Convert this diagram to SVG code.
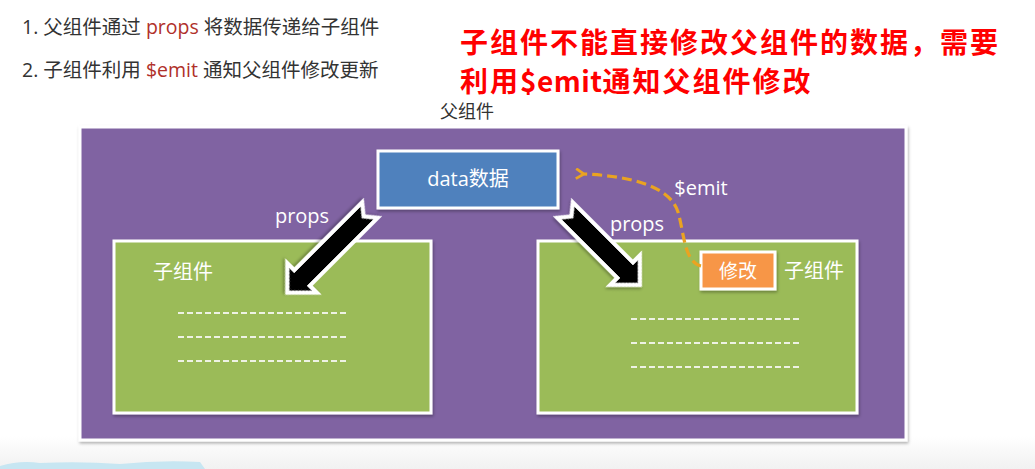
<svg xmlns="http://www.w3.org/2000/svg" width="1035" height="469" viewBox="0 0 1035 469">
<style>
.t{font-family:"Open Sans","Noto Sans CJK SC",sans-serif;}
.dark{fill:#333;font-size:19.5px;}
.red{fill:#b0302a;}
.title{font-family:"Noto Sans CJK SC",sans-serif;font-weight:bold;font-size:28px;letter-spacing:2px;fill:#ff0000;}
.w{fill:#fff;}
.box{stroke:#fff;stroke-width:3;filter:url(#sh);}
.dash{stroke:#eef2e4;stroke-width:2;stroke-dasharray:6 3;}
.arr{fill:#000;stroke:#fff;stroke-width:4;stroke-linejoin:miter;filter:url(#sh);}
</style>
<defs>
<filter id="sh" x="-10%" y="-10%" width="130%" height="130%">
<feDropShadow dx="1" dy="2" stdDeviation="1.5" flood-color="#000" flood-opacity="0.3"/>
</filter>
<marker id="oh" viewBox="0 0 12 12" refX="2" refY="6" markerWidth="12" markerHeight="12" markerUnits="userSpaceOnUse" orient="auto-start-reverse">
<path d="M10,1 L2,6 L10,11" fill="none" stroke="#eaa321" stroke-width="2.8"/>
</marker>
<linearGradient id="bg" x1="0" y1="0" x2="0" y2="1">
<stop offset="0.93" stop-color="#fff"/>
<stop offset="1" stop-color="#f1f1f1"/>
</linearGradient>
</defs>
<rect width="1035" height="469" fill="url(#bg)"/>
<path d="M0,466 Q20,460 40,463 Q80,461 120,464 Q160,460 200,462 L205,469 L0,469 Z" fill="#c7e6f2"/>

<g id="notes">
<text class="t dark" x="22" y="34">1. 父组件通过 <tspan class="red">props</tspan> 将数据传递给子组件</text>
<text class="t dark" x="22" y="77">2. 子组件利用 <tspan class="red">$emit</tspan> 通知父组件修改更新</text>
</g>
<g id="title">
<text class="title" x="460" y="53">子组件不能直接修改父组件的数据，需要</text>
<text class="title" x="460" y="92">利用<tspan letter-spacing="0.5">$emit</tspan>通知父组件修改</text>
</g>

<g id="parent">
<text class="t" x="440" y="118" font-size="18" fill="#333">父组件</text>
<rect class="box" x="80" y="127" width="826" height="313" fill="#8064a2"/>
</g>

<g id="data">
<rect class="box" x="378" y="151" width="180" height="57" fill="#4f81bd"/>
<text class="t w" x="468" y="186" font-size="20" text-anchor="middle">data数据</text>
</g>

<g id="child-left">
<rect class="box" x="114" y="241" width="317" height="172" fill="#9bbb59"/>
<text class="t w" x="153" y="279" font-size="20">子组件</text>
<line class="dash" x1="178" y1="313" x2="347" y2="313"/>
<line class="dash" x1="178" y1="337" x2="347" y2="337"/>
<line class="dash" x1="178" y1="361" x2="347" y2="361"/>
</g>

<g id="child-right">
<rect class="box" x="538" y="241" width="319" height="172" fill="#9bbb59"/>
<text class="t w" x="784" y="278" font-size="20">子组件</text>
<line class="dash" x1="631" y1="319" x2="799" y2="319"/>
<line class="dash" x1="631" y1="343" x2="799" y2="343"/>
<line class="dash" x1="631" y1="367" x2="799" y2="367"/>
</g>

<g id="modify">
<rect class="box" x="701" y="252" width="74" height="37" fill="#f79646"/>
<text class="t w" x="738" y="278" font-size="19" text-anchor="middle">修改</text>
</g>

<g id="connectors">
<path class="arr" transform="translate(370,210) rotate(135)" d="M0,-11 L96,-11 L96,-21 L117,0 L96,21 L96,11 L0,11 L9,0 Z"/>
<path class="arr" transform="translate(565,210) rotate(45)" d="M0,-11 L85,-11 L85,-21 L106,0 L85,21 L85,11 L0,11 L9,0 Z"/>
<path d="M701,266 C684,262 684,232 678,212 C670,186 630,176 584,174" fill="none" stroke="#eaa321" stroke-width="3.2" stroke-dasharray="10 5" marker-end="url(#oh)"/>
<text class="t w" x="302" y="223" font-size="20" text-anchor="middle">props</text>
<text class="t w" x="637" y="231" font-size="20" text-anchor="middle">props</text>
<text class="t w" x="701" y="195" font-size="20" text-anchor="middle">$emit</text>
</g>
</svg>
